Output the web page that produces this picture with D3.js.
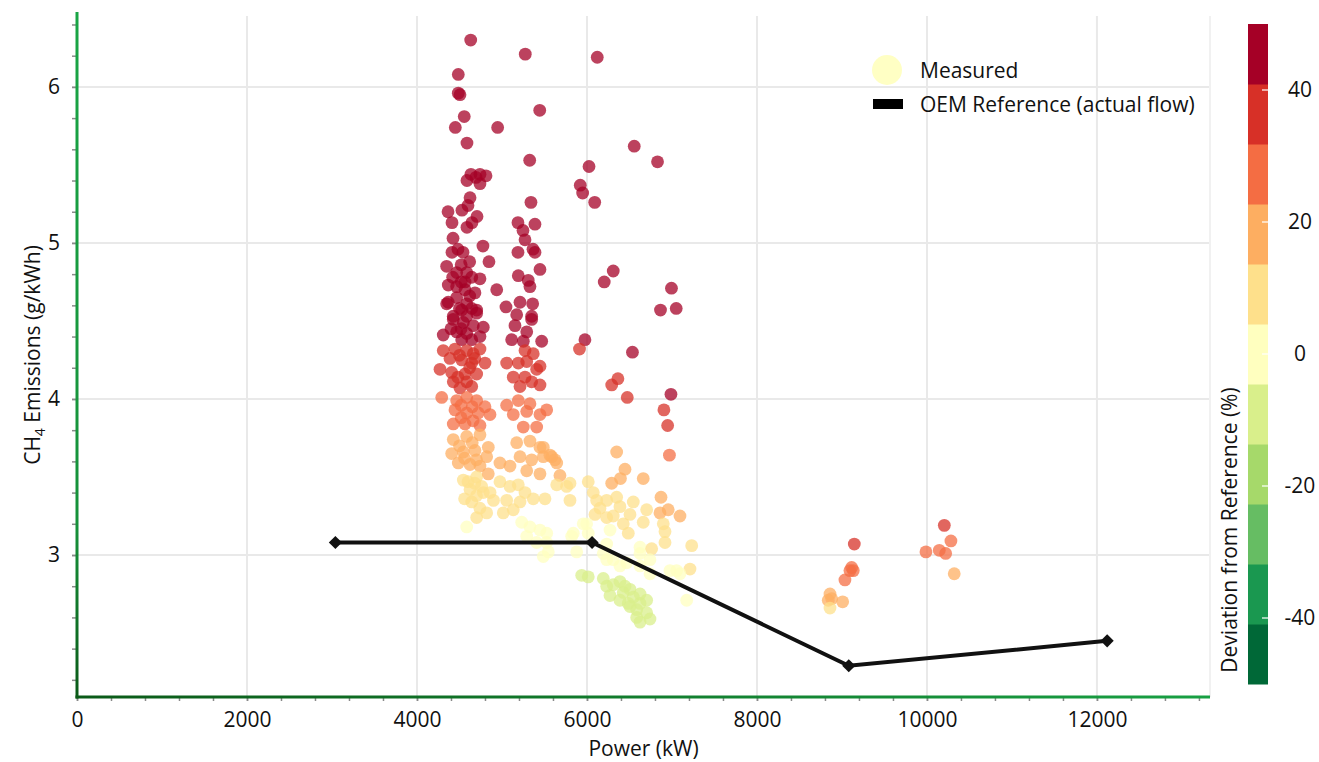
<!DOCTYPE html>
<html>
<head>
<meta charset="utf-8">
<script src="https://cdn.jsdelivr.net/npm/d3@7"></script>
<style>
	body { margin: 0; background: #fff; }
	text { font-family: 'Open Sans', sans-serif; fill: #111; }
</style>
</head>
<body>
<script>
// Measured points [power kW, CH4 g/kWh], grouped by area
const column4500 = [
	[4632, 6.30], [4486, 6.08], [4486, 5.96], [4506, 5.95], [4556, 5.81], [4451, 5.74], [4949, 5.74], [4588, 5.64],
	[4635, 5.44], [4741, 5.44], [4812, 5.43], [4588, 5.40], [4741, 5.38], [4694, 5.42], [4624, 5.29], [4600, 5.24],
	[4365, 5.20], [4529, 5.21], [4412, 5.13], [4706, 5.17], [4647, 5.13], [4588, 5.10],
	[4424, 5.03], [4482, 4.96], [4412, 4.94], [4541, 4.94], [4776, 4.98], [4847, 4.88],
	[4349, 4.85], [4467, 4.81], [4585, 4.81], [4644, 4.78], [4741, 4.77], [4565, 4.75], [4368, 4.73], [4467, 4.72],
	[4565, 4.70], [4682, 4.68], [4368, 4.62], [4467, 4.65], [4585, 4.61], [4644, 4.58], [4526, 4.57], [4427, 4.53],
	[4585, 4.53], [4702, 4.55], [4938, 4.70], [4520, 4.86], [4620, 4.88], [4420, 4.78], [4520, 4.75],
	[4349, 4.61], [4702, 4.57], [4427, 4.51], [4545, 4.49], [4662, 4.47], [4780, 4.46], [4467, 4.43], [4585, 4.42],
	[4644, 4.38], [4309, 4.41], [4741, 4.40], [4526, 4.38], [4500, 4.58], [4620, 4.66], [4520, 4.45], [4400, 4.45],
	[4309, 4.31], [4447, 4.32], [4585, 4.31], [4662, 4.29], [4388, 4.26], [4526, 4.25], [4644, 4.23], [4741, 4.32],
	[4800, 4.23], [4271, 4.19], [4408, 4.17], [4565, 4.16], [4702, 4.16], [4427, 4.11], [4585, 4.11], [4506, 4.07],
	[4644, 4.08], [4500, 4.28], [4620, 4.20], [4480, 4.14], [4680, 4.26],
	[4291, 4.01], [4467, 3.99], [4585, 4.01], [4702, 3.99], [4800, 3.95], [4447, 3.93], [4585, 3.91], [4721, 3.91],
	[4859, 3.90], [4427, 3.84], [4565, 3.84], [4741, 3.83], [4520, 3.96], [4650, 3.95], [4520, 3.88], [4660, 3.86],
	[4427, 3.74], [4585, 3.76], [4741, 3.77], [4839, 3.69], [4408, 3.65], [4545, 3.66], [4682, 3.67], [4820, 3.63],
	[4486, 3.59], [4624, 3.58], [4741, 3.57], [4976, 3.59], [4500, 3.70], [4650, 3.72], [4560, 3.62], [4700, 3.61],
	[4545, 3.48], [4702, 3.50], [4839, 3.52], [4624, 3.42], [4780, 3.40], [4644, 3.34], [4976, 3.47],
	[4600, 3.47], [4680, 3.46], [4760, 3.44], [4700, 3.38], [4860, 3.40], [4900, 3.35], [4560, 3.36], [4740, 3.30],
	[4585, 3.18], [4702, 3.24], [4820, 3.27], [5015, 3.27]
]

const column5300 = [
	[5274, 6.21], [5444, 5.85], [5326, 5.53], [5341, 5.26], [5188, 5.13], [5388, 5.12], [5247, 5.08], [5271, 5.02],
	[5188, 4.94], [5365, 4.96], [5388, 4.94], [5447, 4.83], [5192, 4.79], [5309, 4.76], [5329, 4.72], [5047, 4.59],
	[5212, 4.62], [5361, 4.61], [5173, 4.54], [5349, 4.53],
	[5349, 4.51], [5153, 4.47], [5291, 4.43], [5114, 4.38], [5251, 4.37], [5467, 4.37], [5447, 4.21],
	[5271, 4.31], [5368, 4.29], [5055, 4.23], [5192, 4.23], [5291, 4.24], [5408, 4.19], [5133, 4.14], [5271, 4.14],
	[5349, 4.11], [5447, 4.09], [5212, 4.08],
	[5055, 3.96], [5192, 3.99], [5329, 3.97], [5526, 3.93], [5133, 3.90], [5291, 3.92], [5447, 3.90], [5251, 3.82],
	[5408, 3.82],
	[5173, 3.72], [5329, 3.73], [5447, 3.69], [5585, 3.63], [5212, 3.63], [5349, 3.61], [5486, 3.63], [5094, 3.57],
	[5291, 3.54], [5447, 3.52], [5644, 3.59], [5486, 3.69], [5565, 3.64], [5624, 3.61], [5682, 3.51], [5800, 3.46],
	[5094, 3.44], [5192, 3.45], [5271, 3.40], [5055, 3.35], [5212, 3.34], [5368, 3.36], [5506, 3.36], [5644, 3.45],
	[5761, 3.44], [5800, 3.35],
	[5133, 3.29], [5232, 3.21], [5329, 3.18], [5447, 3.16], [5291, 3.12], [5408, 3.08], [5526, 3.08], [5526, 3.14],
	[5545, 3.02], [5486, 2.99], [5839, 3.14], [5820, 3.12], [5879, 3.02]
]

const band6500 = [
	[6121, 6.19], [6024, 5.49], [5921, 5.37], [5949, 5.32], [6091, 5.26], [6556, 5.62], [6830, 5.52], [6309, 4.82],
	[6203, 4.75], [6994, 4.71], [6865, 4.57], [7050, 4.58], [5976, 4.38], [5912, 4.32], [6535, 4.30], [6364, 4.13],
	[6291, 4.09], [6474, 4.01], [6988, 4.03], [6905, 3.93], [6949, 3.83], [6970, 3.64],
	[6349, 3.66], [6447, 3.55], [6394, 3.49], [6291, 3.46], [6662, 3.49], [6015, 3.47], [6074, 3.40], [6871, 3.37],
	[6956, 3.29], [6859, 3.27], [7094, 3.25],
	[6349, 3.37], [6232, 3.35], [6545, 3.34], [6153, 3.30], [6388, 3.31], [6702, 3.29], [6094, 3.26], [6232, 3.24],
	[6309, 3.25], [6427, 3.20], [6506, 3.26], [6662, 3.21], [6898, 3.20], [6918, 3.15], [6486, 3.14], [6624, 3.05],
	[6761, 3.04], [7232, 3.06], [7212, 2.91], [7094, 2.88], [6271, 3.16], [6918, 3.08], [6114, 3.35], [5996, 3.20],
	[5956, 3.20], [6015, 3.14],
	[6192, 3.01], [6309, 2.97], [6467, 2.95], [6624, 3.01], [6741, 2.97], [6232, 3.07], [6232, 2.97], [6388, 2.93],
	[6624, 2.93], [6741, 2.88], [6976, 2.90], [7055, 2.90], [7173, 2.71],
	[5938, 2.87], [6015, 2.86], [6192, 2.85], [6232, 2.80], [6309, 2.81], [6388, 2.83], [6427, 2.76], [6506, 2.78],
	[6271, 2.74], [6545, 2.73], [6624, 2.75], [6388, 2.71], [6486, 2.69], [6624, 2.69], [6702, 2.71], [6585, 2.65],
	[6702, 2.63], [6624, 2.57], [6741, 2.59], [6447, 2.80], [6506, 2.67], [6585, 2.60]
]

const high9000 = [
	[9145, 3.07], [9114, 2.92], [9133, 2.90], [9094, 2.90], [9035, 2.84],
	[8859, 2.75], [8879, 2.72], [8839, 2.71], [8859, 2.66], [9008, 2.70]
]

const high10200 = [
	[10204, 3.19], [10282, 3.09], [9988, 3.02], [10145, 3.03], [10220, 3.01], [10321, 2.88]
]

// OEM reference (actual flow)
const refPower = [3040, 6060, 9080, 12120]
const refCH4 = [3.08, 3.08, 2.29, 2.45]

// Tick labels
const xTicks = [0, 2000, 4000, 6000, 8000, 10000, 12000]
const yTicks = [3, 4, 5, 6]
const devTicks = [-40, -20, 0, 20, 40]

const measured = [...column4500, ...column5300, ...band6500, ...high9000, ...high10200]

const W = 1319
const H = 762
const plot = { left: 77, right: 1210, top: 12, bottom: 697 }

const svg = d3.select('body').append('svg').attr('width', W).attr('height', H)

const x = d3.scaleLinear().domain([0, 13330]).range([plot.left, plot.right])
const y = d3.scaleLinear().domain([2.09, 6.48]).range([plot.bottom, plot.top])

// reference curve, used to colour the points by deviation
const refAt = d3.scaleLinear().domain(refPower).range(refCH4)
const colors = d3.schemeRdYlGn[11].slice().reverse()
const color = d3.scaleQuantize().domain([-50, 50]).range(colors)

// gradients for the axis lines
const defs = svg.append('defs')
const gx = defs.append('linearGradient').attr('id', 'gx').attr('x1', '0%').attr('x2', '100%')
gx.append('stop').attr('offset', '0%').attr('stop-color', '#0b5a18')
gx.append('stop').attr('offset', '100%').attr('stop-color', '#18a043')
const gy = defs.append('linearGradient').attr('id', 'gy').attr('x1', '0%').attr('x2', '0%').attr('y1', '0%').attr('y2', '100%')
gy.append('stop').attr('offset', '0%').attr('stop-color', '#19a545')
gy.append('stop').attr('offset', '75%').attr('stop-color', '#16913a')
gy.append('stop').attr('offset', '100%').attr('stop-color', '#0b5a18')

// grid
const grid = svg.append('g').attr('stroke', '#e9e9e9').attr('stroke-width', 2)
grid.selectAll('.vg').data(xTicks.slice(1)).join('line')
	.attr('x1', d => x(d)).attr('x2', d => x(d)).attr('y1', plot.top + 4).attr('y2', plot.bottom)
grid.selectAll('.hg').data(yTicks).join('line')
	.attr('x1', plot.left).attr('x2', plot.right).attr('y1', d => y(d)).attr('y2', d => y(d))
grid.append('line').attr('x1', plot.right).attr('x2', plot.right).attr('y1', plot.top + 4).attr('y2', plot.bottom)
	.attr('stroke', '#f1f1f1')

// axes
const minorX = d3.range(0, 13330, 400)
const minorY = d3.range(2.2, 6.45, 0.2)

const xAxisG = svg.append('g').attr('transform', `translate(0,${plot.bottom})`)
xAxisG.call(d3.axisBottom(x).tickValues(minorX).tickSize(4).tickFormat(''))
xAxisG.append('g').call(d3.axisBottom(x).tickValues(xTicks).tickSize(4).tickPadding(11).tickFormat(d3.format('d')))
xAxisG.selectAll('.domain').remove()
xAxisG.selectAll('line').attr('stroke', '#8a8a8a').attr('stroke-width', 1.5)
xAxisG.selectAll('text').style('font-size', '21px').attr('fill', '#111')

const yAxisG = svg.append('g').attr('transform', `translate(${plot.left},0)`)
yAxisG.call(d3.axisLeft(y).tickValues(minorY).tickSize(5).tickFormat(''))
yAxisG.append('g').call(d3.axisLeft(y).tickValues(yTicks).tickSize(5).tickPadding(12).tickFormat(d3.format('d')))
yAxisG.selectAll('.domain').remove()
yAxisG.selectAll('line').attr('stroke', '#8a8a8a').attr('stroke-width', 1.5)
yAxisG.selectAll('text').style('font-size', '21px').attr('fill', '#111')

// measured points
svg.append('g')
	.selectAll('circle')
	.data(measured)
	.join('circle')
	.attr('cx', d => x(d[0]))
	.attr('cy', d => y(d[1]))
	.attr('r', 6.4)
	.attr('fill', d => color(((d[1] - refAt(d[0])) / refAt(d[0])) * 100))
	.attr('fill-opacity', 0.74)

// OEM reference line
const refData = refPower.map((p, i) => [p, refCH4[i]])
svg.append('path')
	.datum(refData)
	.attr('fill', 'none')
	.attr('stroke', '#111')
	.attr('stroke-width', 4)
	.attr('d', d3.line().x(d => x(d[0])).y(d => y(d[1])))
svg.append('g')
	.selectAll('path')
	.data(refData)
	.join('path')
	.attr('transform', d => `translate(${x(d[0])},${y(d[1])})`)
	.attr('d', d3.symbol().type(d3.symbolDiamond2).size(110))
	.attr('fill', '#111')

// axis lines drawn on top
svg.append('rect').attr('x', plot.left - 1.5).attr('y', plot.top).attr('width', 3).attr('height', plot.bottom - plot.top + 1.5)
	.attr('fill', 'url(#gy)')
svg.append('rect').attr('x', plot.left - 1.5).attr('y', plot.bottom - 1.5).attr('width', plot.right - plot.left + 1.5).attr('height', 3)
	.attr('fill', 'url(#gx)')

// axis titles
svg.append('text')
	.attr('x', (plot.left + plot.right) / 2)
	.attr('y', 756)
	.attr('text-anchor', 'middle')
	.style('font-size', '21px')
	.text('Power (kW)')

const yTitle = svg.append('text')
	.attr('transform', 'translate(40,355) rotate(-90)')
	.attr('text-anchor', 'middle')
	.style('font-size', '21px')
yTitle.append('tspan').text('CH')
yTitle.append('tspan').attr('dy', 5).style('font-size', '14px').text('4')
yTitle.append('tspan').attr('dy', -5).text(' Emissions (g/kWh)')

// legend
const legend = svg.append('g')
legend.append('circle').attr('cx', 887).attr('cy', 70).attr('r', 15).attr('fill', '#ffffc4')
legend.append('text').attr('x', 920).attr('y', 78).style('font-size', '21px').text('Measured')
legend.append('rect').attr('x', 873).attr('y', 99).attr('width', 30).attr('height', 10).attr('fill', '#000')
legend.append('text').attr('x', 920).attr('y', 112).style('font-size', '21px').text('OEM Reference (actual flow)')

// colour bar
const cb = { x: 1248, w: 20, top: 24, bottom: 684 }
const cy = d3.scaleLinear().domain([-50, 50]).range([cb.bottom, cb.top])
const bands = colors.map((c, i) => ({ c, lo: -50 + (100 / 11) * i, hi: -50 + (100 / 11) * (i + 1) }))
svg.append('g')
	.selectAll('rect')
	.data(bands)
	.join('rect')
	.attr('x', cb.x)
	.attr('width', cb.w)
	.attr('y', d => cy(d.hi))
	.attr('height', d => cy(d.lo) - cy(d.hi) + 0.5)
	.attr('fill', d => d.c)
svg.append('g')
	.selectAll('line')
	.data(devTicks)
	.join('line')
	.attr('x1', cb.x + cb.w - 6)
	.attr('x2', cb.x + cb.w)
	.attr('y1', d => cy(d))
	.attr('y2', d => cy(d))
	.attr('stroke', '#fff')
	.attr('stroke-opacity', 0.8)
	.attr('stroke-width', 1.5)
svg.append('g')
	.selectAll('text')
	.data(devTicks)
	.join('text')
	.attr('x', 1300)
	.attr('y', d => cy(d))
	.attr('dy', '0.35em')
	.attr('text-anchor', 'middle')
	.style('font-size', '21px')
	.text(d => d)
svg.append('text')
	.attr('transform', 'translate(1237,530) rotate(-90)')
	.attr('text-anchor', 'middle')
	.style('font-size', '21px')
	.text('Deviation from Reference (%)')
</script>
</body>
</html>
